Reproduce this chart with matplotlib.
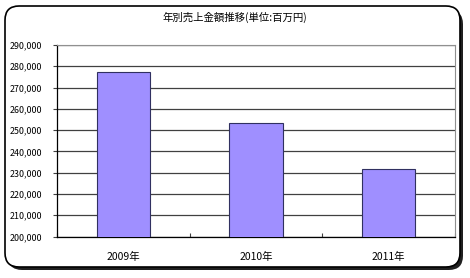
import matplotlib as mpl
import numpy as np
from matplotlib import pyplot as plt
from matplotlib.patches import FancyBboxPatch
from matplotlib.ticker import FuncFormatter, MultipleLocator

mpl.use("Agg")
plt.rcParams["font.family"] = ["Noto Sans CJK JP", "DejaVu Sans"]

# * DATA

years = ["2009年", "2010年", "2011年"]
sales = [277200, 253200, 231900]
title = "年別売上金額推移(単位:百万円)"

# * FIGURE

W, H = 470, 278
fig = plt.figure(figsize=(W / 100, H / 100), dpi=100)

# Rounded frame with shadow
shadow = FancyBboxPatch(
    (8 / W, 8 / H), 455 / W, 260 / H,
    boxstyle="round,pad=0,rounding_size=0.03",
    transform=fig.transFigure, facecolor="#202020", edgecolor="none",
    mutation_aspect=W / H, zorder=-2,
)
frame = FancyBboxPatch(
    (5 / W, 11 / H), 455 / W, 261 / H,
    boxstyle="round,pad=0,rounding_size=0.03",
    transform=fig.transFigure, facecolor="white", edgecolor="black",
    linewidth=1.2, mutation_aspect=W / H, zorder=-1,
)
fig.patches.extend([shadow, frame])

ax = fig.add_axes((57 / W, 41.5 / H, 398 / W, 191.5 / H))
ax.set_zorder(2)
x = np.arange(len(years))
ax.bar(x, sales, width=0.4, color="#9F8FFF", edgecolor="#303060",
       linewidth=0.8, zorder=3)

ax.set_xlim(-0.5, len(years) - 0.5)
ax.set_ylim(200000, 290000)
ax.yaxis.set_major_locator(MultipleLocator(10000))
ax.yaxis.set_major_formatter(FuncFormatter(lambda v, _: f"{v:,.0f}"))
ax.grid(axis="y", color="#404040", linewidth=0.9, zorder=0)

ax.set_xticks(x)
ax.set_xticklabels(years)
ax.set_xticks(np.arange(len(years) + 1) - 0.5, minor=True)
ax.tick_params(axis="x", which="major", length=0, pad=11, labelsize=7.5)
ax.tick_params(axis="x", which="minor", direction="in", length=3, width=0.8,
               color="#404040")
ax.tick_params(axis="y", length=3, width=0.8, color="#404040", labelsize=6.4,
               pad=8)

for side in ("top", "right"):
    ax.spines[side].set_color("#909090")
    ax.spines[side].set_linewidth(0.8)
for side in ("left", "bottom"):
    ax.spines[side].set_color("black")
    ax.spines[side].set_linewidth(0.9)

fig.text(0.5, 1 - 17 / H, title, ha="center", va="center", fontsize=7.5)

fig.savefig("out.png", dpi=100)
